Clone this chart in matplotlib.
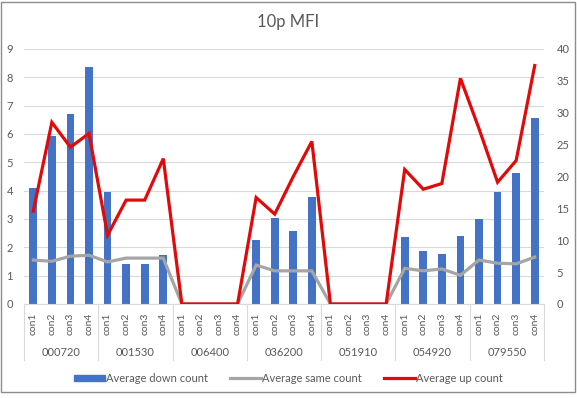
import numpy as np
import matplotlib.pyplot as plt
from matplotlib.patches import Rectangle, Patch
from matplotlib.lines import Line2D
import matplotlib.transforms as mtransforms

plt.rcParams['font.family'] = ['Lato', 'DejaVu Sans']

# groups and sub-categories
groups = ['000720', '001530', '006400', '036200', '051910', '054920', '079550']
cons = ['con1', 'con2', 'con3', 'con4']

# values (left axis: down, right axis: same / up)
down_count = [4.08, 5.92, 6.69, 8.38,
              3.94, 1.41, 1.41, 1.73,
              0, 0, 0, 0,
              2.25, 3.03, 2.57, 3.77,
              0, 0, 0, 0,
              2.36, 1.87, 1.76, 2.39,
              2.99, 3.94, 4.61, 6.55]
same_count = [6.9, 6.7, 7.5, 7.65,
              6.6, 7.2, 7.2, 7.2,
              0, 0, 0, 0,
              6.1, 5.2, 5.2, 5.2,
              0, 0, 0, 0,
              5.6, 5.2, 5.5, 4.5,
              6.9, 6.4, 6.3, 7.35]
up_count = [14.55, 28.5, 24.6, 26.75,
            10.8, 16.3, 16.3, 22.8,
            0, 0, 0, 0,
            16.7, 14.1, 20.0, 25.5,
            0, 0, 0, 0,
            21.1, 18.0, 18.9, 35.4,
            27.5, 19.1, 22.5, 37.4]

blue = '#4472C4'
gray = '#A5A5A5'
red = '#E00A0A'
txt = '#595959'

fig = plt.figure(figsize=(5.77, 3.98), dpi=100)
ax = fig.add_axes([24 / 577, 1 - 304 / 398, 520 / 577, 255 / 398])
ax2 = ax.twinx()

x = np.arange(len(down_count))
labels = [c for g in groups for c in cons]

ax.bar(x, down_count, width=0.42, color=blue, zorder=2)
ax2.plot(x, same_count, color=gray, lw=2.3, solid_joinstyle='miter')
ax2.plot(x, up_count, color=red, lw=2.3, solid_joinstyle='miter')

ax.set_xlim(-0.5, len(x) - 0.5)
ax.set_ylim(0, 9)
ax2.set_ylim(0, 40)
ax.set_yticks(range(0, 10))
ax2.set_yticks(range(0, 41, 5))
ax.grid(axis='y', color='#D9D9D9', lw=0.8, zorder=0)
ax.set_axisbelow(True)

for a in (ax, ax2):
    for s in a.spines.values():
        s.set_visible(False)
    a.tick_params(axis='y', length=0, labelsize=8, labelcolor=txt)
ax.spines['bottom'].set_visible(True)
ax.spines['bottom'].set_color('#D9D9D9')
ax.tick_params(axis='y', pad=8)
ax2.tick_params(axis='y', pad=9)

ax.set_xticks(x)
ax.set_xticklabels(labels, rotation=90, fontsize=7.5, color=txt)
ax.tick_params(axis='x', length=0, pad=6)

trans = mtransforms.blended_transform_factory(ax.transData, ax.transAxes)
for i in range(len(groups) + 1):
    ax.plot([i * 4 - 0.5] * 2, [0, -0.22], transform=trans, color='#D9D9D9',
            lw=0.8, clip_on=False)
for i, g in enumerate(groups):
    ax.text(i * 4 + 1.5, -0.19, g, transform=trans, ha='center', va='center',
            fontsize=8, color=txt)

fig.text(0.5, 1 - 22 / 398, '10p MFI', ha='center', va='center',
         fontsize=12, color=txt)

handles = [Patch(color=blue), Line2D([], [], color=gray, lw=2.3),
           Line2D([], [], color=red, lw=2.3)]
fig.legend(handles, ['Average down count', 'Average same count', 'Average up count'],
           loc='center', bbox_to_anchor=(0.5, 1 - 378 / 398), ncol=3, frameon=False,
           fontsize=8, labelcolor=txt, handlelength=2.8, handleheight=0.45,
           handletextpad=0.1, columnspacing=2.0)

fig.patches.append(Rectangle((0.002, 0.015), 0.994, 0.98, transform=fig.transFigure,
                             fill=False, edgecolor='#8C8C8C', lw=1))

fig.savefig('out.png', dpi=100)
